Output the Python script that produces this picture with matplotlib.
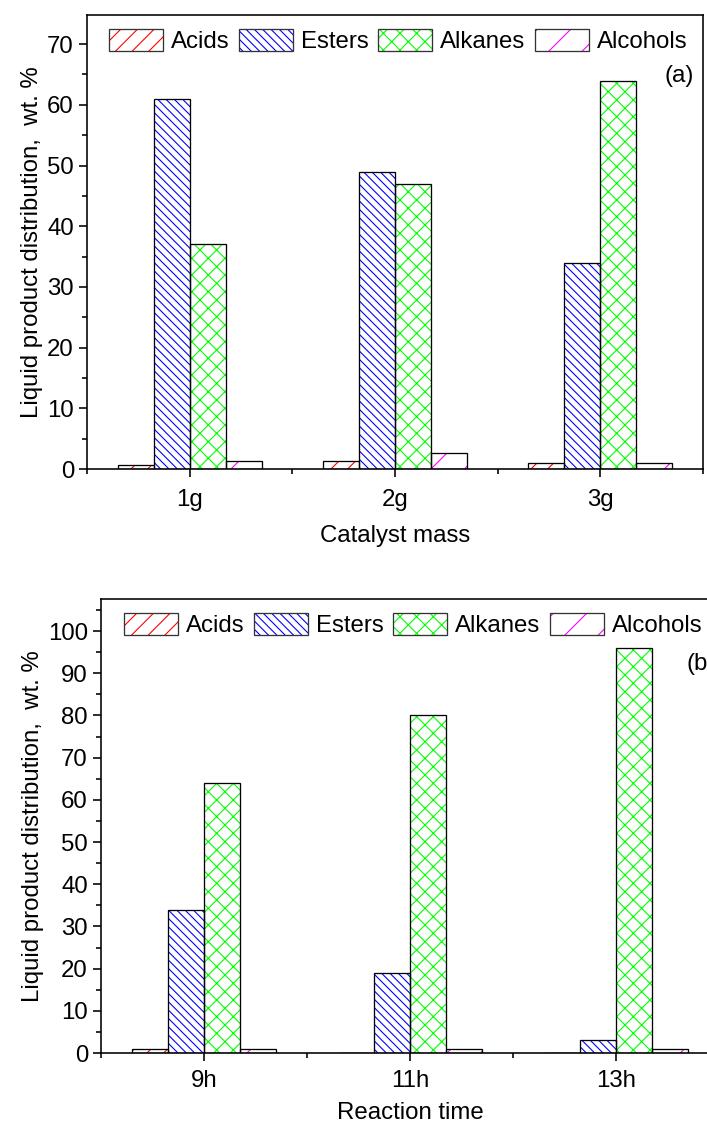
import matplotlib
matplotlib.use("Agg")
import matplotlib.pyplot as plt
import matplotlib.patches as mpatches
from matplotlib.ticker import MultipleLocator, FixedLocator
import numpy as np

# panel (a): catalyst mass
MASS = ["1g", "2g", "3g"]
ACIDS_A = [0.7, 1.4, 1.0]
ESTERS_A = [61, 49, 34]
ALKANES_A = [37, 47, 64]
ALCOHOLS_A = [1.3, 2.6, 1.0]

# panel (b): reaction time
TIME = ["9h", "11h", "13h"]
ACIDS_B = [1.0, 0, 0]
ESTERS_B = [34, 19, 3]
ALKANES_B = [64, 80, 96]
ALCOHOLS_B = [1.0, 1.0, 1.0]

NAMES = ["Acids", "Esters", "Alkanes", "Alcohols"]
COLORS = ["#ff0000", "#0000ff", "#00ff00", "#ff00ff"]
HATCHES = ["//", "\\\\\\\\", "xx", "/"]

DPI = 100
W, H = 707, 1131
BW = 0.175


def pt(px):
    # pixels -> points at the figure dpi
    return px * 72.0 / DPI


plt.rcParams["font.family"] = ["Liberation Sans", "DejaVu Sans"]
plt.rcParams["font.size"] = pt(24)
plt.rcParams["hatch.linewidth"] = pt(1.1)


def px_axes(fig, left, top, right, bottom):
    return fig.add_axes([left / W, 1 - bottom / H, (right - left) / W, (bottom - top) / H])


def panel(ax, cats, series, ymax, xlabel, xpad, lpad, tag, tagx, tagy, tagha):
    x = np.arange(1, len(cats) + 1)
    handles = []
    for i, vals in enumerate(series):
        pos = x + (i - 1.5) * BW
        ax.bar(pos, vals, BW, color="white", edgecolor=COLORS[i], linewidth=0,
               hatch=HATCHES[i], zorder=2)
        ax.bar(pos, vals, BW, fill=False, edgecolor="black", linewidth=pt(1.3), zorder=3)
        h1 = mpatches.Patch(facecolor="white", edgecolor=COLORS[i], hatch=HATCHES[i], linewidth=0)
        h2 = mpatches.Patch(facecolor="none", edgecolor="#333333", linewidth=pt(1.3))
        handles.append((h1, h2))
    ax.set_xlim(0.5, 3.5)
    ax.set_ylim(0, ymax)
    ax.set_xticks(x)
    ax.set_xticklabels(cats)
    ax.xaxis.set_minor_locator(FixedLocator([0.5, 1.5, 2.5, 3.5]))
    ax.yaxis.set_major_locator(MultipleLocator(10))
    ax.yaxis.set_minor_locator(MultipleLocator(5))
    ax.tick_params(which="major", direction="out", length=pt(8), width=pt(1.6))
    ax.tick_params(which="minor", direction="out", length=pt(5), width=pt(1.6))
    ax.tick_params(axis="x", which="major", pad=pt(xpad))
    ax.tick_params(axis="y", which="major", pad=pt(5))
    for s in ax.spines.values():
        s.set_linewidth(pt(1.6))
    ax.set_xlabel(xlabel, labelpad=pt(lpad))
    ax.set_ylabel("Liquid product distribution,  wt. %", labelpad=pt(4))
    ax.legend(handles, NAMES, loc="upper center", bbox_to_anchor=(0.505, 0.99),
              ncol=4, frameon=False, handlelength=2.25, handleheight=1.0,
              handletextpad=0.33, columnspacing=0.4, borderaxespad=0.2,
              borderpad=0.2)
    ax.text(tagx, tagy, tag, transform=ax.transAxes, ha=tagha, va="center")


fig = plt.figure(figsize=(W / DPI, H / DPI), dpi=DPI)
ax1 = px_axes(fig, 87, 15, 703, 469)
ax2 = px_axes(fig, 101, 599, 719, 1053)

panel(ax1, MASS, [ACIDS_A, ESTERS_A, ALKANES_A, ALCOHOLS_A], 74.8,
      "Catalyst mass", 12, 14, "(a)", 0.985, 0.866, "right")
panel(ax2, TIME, [ACIDS_B, ESTERS_B, ALKANES_B, ALCOHOLS_B], 107.6,
      "Reaction time", 9, 10, "(b)", 0.948, 0.857, "left")

fig.savefig("out.png", dpi=DPI)
